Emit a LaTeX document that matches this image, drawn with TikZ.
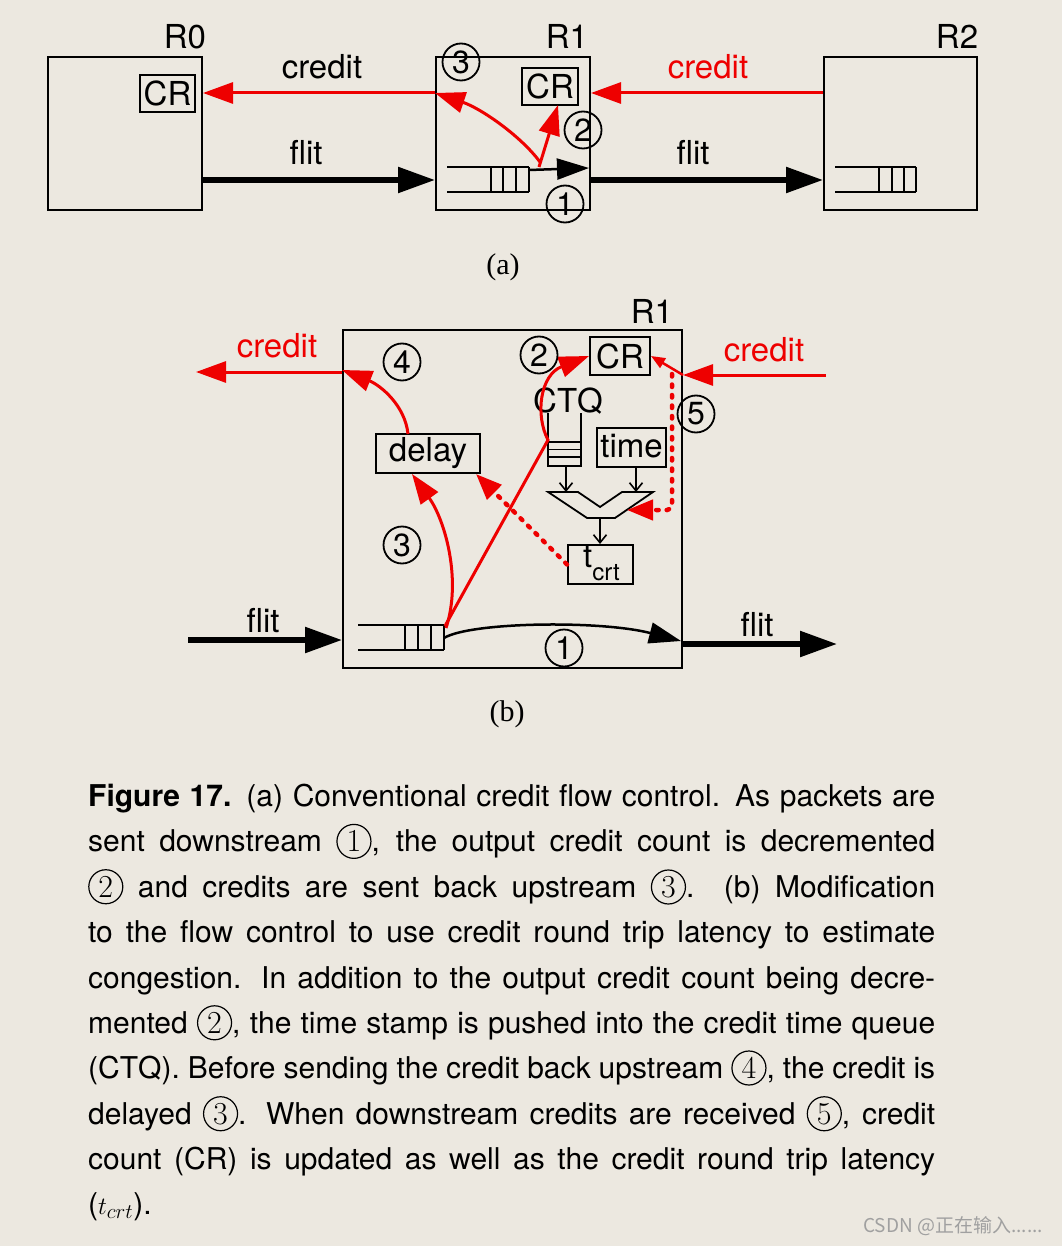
\documentclass[tikz,border=0pt]{standalone}
\usepackage{fontspec}
\newfontfamily\hv{TeX Gyre Heros}
\newfontfamily\tm{Liberation Serif}
\newfontfamily\cjk{Noto Sans CJK SC}
\usetikzlibrary{arrows.meta}
\definecolor{bg}{RGB}{236,232,224}
\definecolor{cred}{RGB}{238,0,0}
\definecolor{wm}{RGB}{160,160,160}
\newcommand{\cnum}[1]{\tikz[baseline=(cc.base)]\node[circle,draw=black,line width=1.2pt,inner sep=0pt,minimum size=34pt,text width={},align=center,font=\normalfont\fontsize{32}{32}\selectfont](cc){#1};}
\newcommand{\jline}[1]{\hbox to 847pt{#1}}
\tikzset{
  box/.style={draw=black, line width=2pt, inner sep=0pt},
  lab/.style={font=\hv\fontsize{33}{40}\selectfont, inner sep=0pt},
  num/.style={circle, draw=black, line width=1.8pt, inner sep=0pt, minimum size=37pt, font=\hv\fontsize{32}{32}\selectfont},
  credline/.style={draw=cred, line width=3pt, -{Triangle[length=30pt,width=21pt]}},
  flitline/.style={draw=black, line width=5.5pt, -{Triangle[length=37pt,width=25pt]}},
  thinarrow/.style={draw=black, line width=2.5pt, -{Triangle[length=32pt,width=21pt]}},
  qline/.style={draw=black, line width=1.8pt},
  smallarrow/.style={draw=black, line width=1.6pt, -{Straight Barb[length=8pt,width=13pt]}},
  dotline/.style={draw=cred, line width=4.5pt, line cap=round, dash pattern=on 2.5pt off 8pt, -{Triangle[length=26pt,width=20pt]}},
  lbl/.style={font=\tm\fontsize{30}{30}\selectfont, inner sep=0pt},
}
\begin{document}
\begin{tikzpicture}[x=1pt,y=-1pt]
\fill[bg] (0,0) rectangle (1062,1246);
\useasboundingbox (0,0) rectangle (1062,1246);

% ---------------- (a) ----------------
\node[box, minimum width=154pt, minimum height=153pt] (R0) at (125,133.5) {};
\node[box, minimum width=154pt, minimum height=153pt] (R1a) at (513,133.5) {};
\node[box, minimum width=153pt, minimum height=153pt] (R2) at (900.5,133.5) {};
\node[lab, anchor=base] (tR0) at (185,49) {R0};
\node[lab, anchor=base] (tR1a) at (567,49) {R1};
\node[lab, anchor=base] (tR2) at (957,49) {R2};
\node[box, lab, minimum width=55pt, minimum height=37pt] (CR0) at (167.5,93.5) {CR};
\node[box, lab, minimum width=56pt, minimum height=37pt] (CR1) at (550,86.5) {CR};
\node[lab, anchor=base] (tcred1) at (322,79) {credit};
\node[lab, anchor=base, text=cred] (tcred2) at (708,79) {credit};
\node[lab, anchor=base] (tflit1) at (306,165) {flit};
\node[lab, anchor=base] (tflit2) at (693,165) {flit};

\coordinate (cy) at (0,93);
\coordinate (fy) at (0,180);
\draw[credline] (R1a.west |- cy) -- (R0.east |- cy);
\draw[credline] (R2.west |- cy) -- (R1a.east |- cy);
\draw[flitline] (R0.east |- fy) -- (R1a.west |- fy);
\draw[flitline] (R1a.east |- fy) -- (R2.west |- fy);

% queue in R1
\draw[qline] (447,167) -- (529,167) (447,192) -- (529,192);
\foreach \x in {491,503,516,529} \draw[qline] (\x,167) -- (\x,192);
% queue in R2
\draw[qline] (835,167) -- (916,167) (835,192) -- (916,192);
\foreach \x in {879,892,904,916} \draw[qline] (\x,167) -- (\x,192);

\coordinate (qa) at (529,170);
\coordinate (oa) at (589,168);
\coordinate (tapa) at (539,167);
\coordinate (cr1b) at (558,105);
\draw[thinarrow] (qa) -- (oa);
\draw[credline] (tapa) -- (cr1b);
\draw[credline] (540,162) .. controls (520,135) and (480,108) .. (R1a.west |- cy);

\node[num] (n3a) at (461,62) {3};
\node[num] (n2a) at (583,130) {2};
\node[num] (n1a) at (565,204) {1};

\node[lbl, anchor=base] (la) at (503,275) {(a)};

% ---------------- (b) ----------------
\node[box, minimum width=339pt, minimum height=338pt] (R1b) at (512.5,499) {};
\node[lab, anchor=base] (tR1b) at (652,323) {R1};
\node[box, lab, minimum width=60pt, minimum height=38pt] (CRb) at (620,356) {CR};
\node[box, lab, minimum width=69pt, minimum height=39pt] (time) at (631.5,447.5) {\raisebox{3pt}{time}};
\node[box, lab, minimum width=104pt, minimum height=39pt] (delay) at (428,453.5) {delay};
\node[box, minimum width=65pt, minimum height=39pt] (tcrt) at (600.5,564.5) {};
\node[lab, anchor=base west] (tcrtlab) at (583,567) {t\raisebox{-13pt}{\fontsize{24}{24}\selectfont crt}};
\node[lab, anchor=base] (ctqlab) at (568,412) {CTQ};

% CTQ queue
\draw[qline] (548,413) -- (548,466) -- (581,466) -- (581,413);
\foreach \y in {442,449.5,457} \draw[qline] (548,\y) -- (581,\y);
% mux
\draw[qline] (548,492) -- (578,492) -- (600,507) -- (622,492) -- (653,492) -- (615,518) -- (587,518) -- cycle;
\coordinate (ctqout) at (566,466);
\coordinate (muxin1) at (566,492);
\coordinate (timeout) at (636,467);
\coordinate (muxin2) at (636,492);
\coordinate (muxout) at (600,518);
\coordinate (muxr) at (627,510);
\draw[smallarrow] (ctqout) -- (muxin1);
\draw[smallarrow] (timeout) -- (muxin2);
\draw[smallarrow] (muxout) -- (muxout |- tcrt.north);

% input queue
\draw[qline] (358,625) -- (444,625) (358,650) -- (444,650);
\foreach \x in {405,418,431,444} \draw[qline] (\x,625) -- (\x,650);

% flits
\coordinate (fin) at (188,640);
\coordinate (fout) at (837,644);
\draw[flitline] (fin) -- (R1b.west |- fin);
\draw[flitline] (R1b.east |- fout) -- (fout);
\node[lab, anchor=base] (tflit3) at (263,632) {flit};
\node[lab, anchor=base] (tflit4) at (757,636) {flit};

% credits
\coordinate (cout) at (196,372);
\coordinate (cin) at (826,375);
\draw[credline] (R1b.west |- cout) -- (cout);
\draw[credline] (cin) -- (R1b.east |- cin);
\node[lab, anchor=base, text=cred] (tcred3) at (277,357) {credit};
\node[lab, anchor=base, text=cred] (tcred4) at (764,361) {credit};
\draw[draw=cred, line width=2.5pt, -{Triangle[length=14pt,width=11pt]}] (R1b.east |- cin) -- (CRb.east);
\draw[dotline, rounded corners=5pt] (672,374) -- (672,510) -- (muxr);

% red paths
\coordinate (tapb) at (445,626);
\coordinate (ctqtap) at (548,440);
\coordinate (dsouth) at (412,474);
\coordinate (dnorth) at (408,434);
\coordinate (dse) at (476,474);
\draw[credline] (tapb) -- (ctqtap) .. controls (535,415) and (540,375) .. (CRb.west);
\draw[credline] (446,628) .. controls (462,580) and (445,520) .. (dsouth);
\draw[credline] (dnorth) .. controls (405,405) and (380,385) .. (R1b.west |- 0,370);
\draw[dotline] (tcrt.west) -- (dse);

% flit path 1
\coordinate (q1b) at (444,638);
\coordinate (o1b) at (681,641);
\draw[thinarrow] (q1b) .. controls (470,622) and (600,620) .. (o1b);

\node[num] (n4b) at (402,362) {4};
\node[num] (n2b) at (539,355) {2};
\node[num] (n3b) at (402,545) {3};
\node[num] (n1b) at (564,648) {1};
\node[num] (n5b) at (696,414) {5};

\node[lbl, anchor=base] (lb) at (507,721) {(b)};

% ---------------- caption ----------------
\node[anchor=north west, inner sep=0pt, text width=847pt, align=justify,
      font=\hv\fontsize{30}{45.35}\selectfont] (cap) at (88,784) {%
\jline{\textbf{Figure 17.} (a) Conventional credit flow control. As packets are}\\
\jline{sent downstream \cnum{1}, the output credit count is decremented}\\
\jline{\cnum{2} and credits are sent back upstream \cnum{3}. (b) Modification}\\
\jline{to the flow control to use credit round trip latency to estimate}\\
\jline{congestion. In addition to the output credit count being decre-}\\
\jline{mented \cnum{2}, the time stamp is pushed into the credit time queue}\\
\jline{(CTQ). Before sending the credit back upstream \cnum{4}, the credit is}\\
\jline{delayed \cnum{3}. When downstream credits are received \cnum{5}, credit}\\
\jline{count (CR) is updated as well as the credit round trip latency}\\
($t_{crt}$).};

\node[font=\cjk\fontsize{19}{19}\selectfont, text=wm, inner sep=0pt] (wmk) at (953,1226) {CSDN @正在输入......};
\end{tikzpicture}
\end{document}
